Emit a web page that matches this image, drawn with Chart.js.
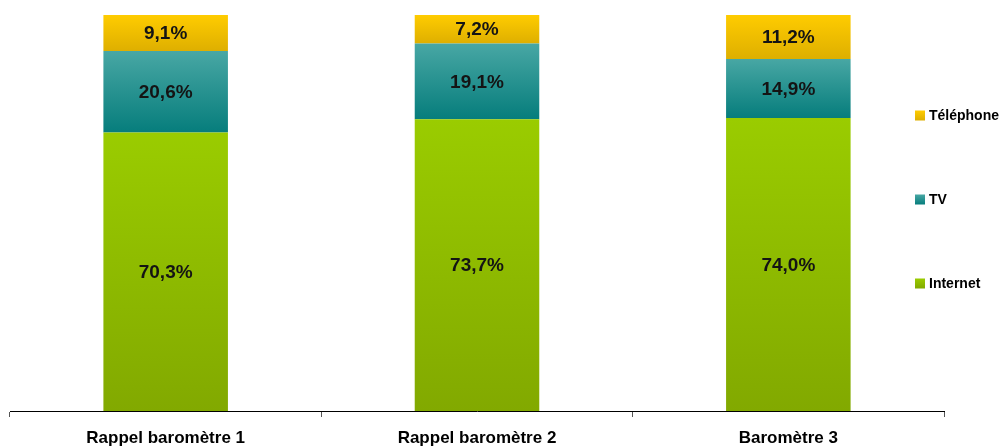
<!DOCTYPE html>
<html>
<head>
<meta charset="utf-8">
<script src="https://cdn.jsdelivr.net/npm/chart.js@4.4.1/dist/chart.umd.min.js"></script>
<style>
  html, body { margin: 0; padding: 0; background: #ffffff; }
  #wrap { position: relative; width: 1007px; height: 446px; }
</style>
</head>
<body>
<div id="wrap"><canvas id="c" width="1007" height="446"></canvas></div>
<script>
// Categories along the x axis
const categories = ['Rappel baromètre 1', 'Rappel baromètre 2', 'Baromètre 3'];

// Share of each channel (%), stacked bottom to top
const internet  = [70.3, 73.7, 74.0];
const tv        = [20.6, 19.1, 14.9];
const telephone = [9.1, 7.2, 11.2];

const seriesNames = ['Internet', 'TV', 'Téléphone'];
const seriesValues = [internet, tv, telephone];

// Vertical gradient stops (top, bottom) per series
const gradientStops = [
  ['#9acc00', '#82a900'],
  ['#48a7a4', '#067d7c'],
  ['#ffcc00', '#deaf00']
];

const FONT = "'Liberation Sans', Arial, sans-serif";

function makeGradient(ctx, top, bottom, stops) {
  const g = ctx.createLinearGradient(0, top, 0, bottom);
  g.addColorStop(0, stops[0]);
  g.addColorStop(1, stops[1]);
  return g;
}

// Each stacked segment gets its own top-to-bottom gradient
function segmentFill(c) {
  const d = c.datasetIndex;
  const stops = gradientStops[d];
  const chart = c.chart;
  const y = chart.scales && chart.scales.y;
  if (c.type !== 'data' || !y || !chart.chartArea) return stops[0];
  const i = c.dataIndex;
  let start = 0;
  for (let k = 0; k < d; k++) start += seriesValues[k][i];
  const end = start + seriesValues[d][i];
  return makeGradient(chart.ctx, y.getPixelForValue(end), y.getPixelForValue(start), stops);
}

// Value labels centred inside each segment
const segmentLabels = {
  id: 'segmentLabels',
  afterDatasetsDraw(chart) {
    const ctx = chart.ctx;
    ctx.save();
    ctx.font = 'bold 19px ' + FONT;
    ctx.fillStyle = '#141414';
    ctx.textAlign = 'center';
    ctx.textBaseline = 'middle';
    chart.data.datasets.forEach((ds, d) => {
      chart.getDatasetMeta(d).data.forEach((el, i) => {
        const v = ds.data[i];
        const txt = v.toFixed(1).replace('.', ',') + '%';
        ctx.fillText(txt, el.x, (el.y + el.base) / 2 + 1);
      });
    });
    ctx.restore();
  }
};

// Vertical legend on the right, top item = top of stack
const sideLegend = {
  id: 'sideLegend',
  afterDraw(chart, args, opts) {
    const ctx = chart.ctx;
    const n = chart.data.datasets.length;
    ctx.save();
    ctx.font = 'bold 14px ' + FONT;
    ctx.fillStyle = '#000000';
    ctx.textAlign = 'left';
    ctx.textBaseline = 'middle';
    for (let r = 0; r < n; r++) {
      const d = n - 1 - r;
      const cy = opts.top + r * opts.step;
      const s = opts.box;
      ctx.fillStyle = makeGradient(ctx, cy - s / 2, cy + s / 2, gradientStops[d]);
      ctx.fillRect(opts.x, cy - s / 2, s, s);
      ctx.fillStyle = '#000000';
      ctx.fillText(chart.data.datasets[d].label, opts.x + s + 4, cy + 1);
    }
    ctx.restore();
  }
};

new Chart(document.getElementById('c'), {
  type: 'bar',
  data: {
    labels: categories,
    datasets: seriesValues.map((vals, d) => ({
      label: seriesNames[d],
      data: vals,
      backgroundColor: segmentFill,
      borderWidth: 0,
      barPercentage: 0.4,
      categoryPercentage: 1.0
    }))
  },
  options: {
    responsive: false,
    animation: false,
    events: [],
    layout: { padding: { left: 10, right: 63, top: 15, bottom: -14 } },
    plugins: {
      legend: { display: false },
      tooltip: { enabled: false },
      sideLegend: { x: 915, top: 115.5, step: 84, box: 10 }
    },
    scales: {
      x: {
        stacked: true,
        offset: true,
        grid: {
          offset: true,
          drawOnChartArea: false,
          drawTicks: true,
          tickLength: 6,
          color: '#555555',
          lineWidth: 1
        },
        border: { display: true, color: '#000000', width: 1 },
        ticks: {
          color: '#000000',
          padding: 13,
          maxRotation: 0,
          font: { family: FONT, size: 17, weight: 'bold', lineHeight: 1.0 }
        }
      },
      y: {
        stacked: true,
        display: false,
        min: 0,
        max: 100
      }
    }
  },
  plugins: [segmentLabels, sideLegend]
});
</script>
</body>
</html>
